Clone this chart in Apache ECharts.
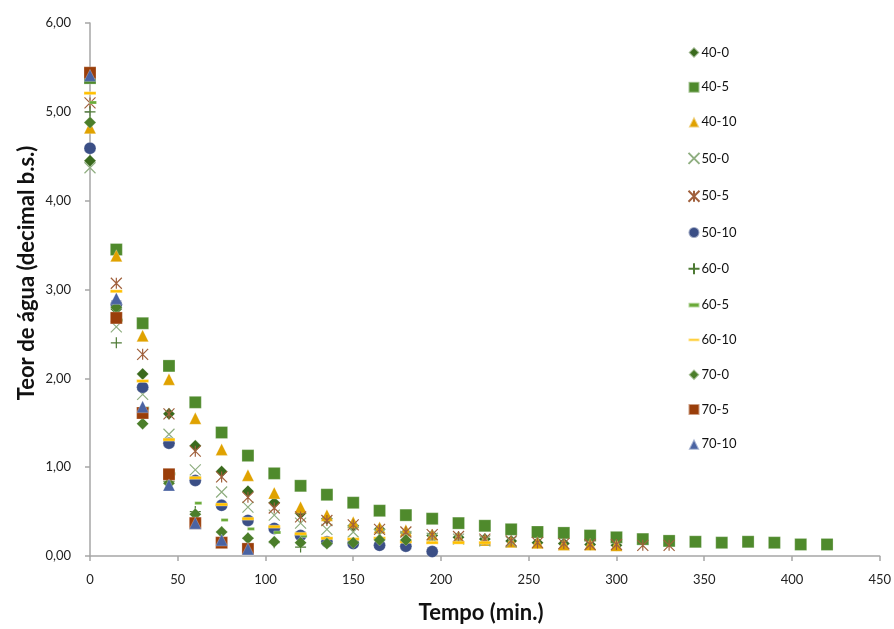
<!DOCTYPE html>
<html lang="pt">
<head>
    <meta charset="UTF-8">
    <title>Teor de água x Tempo</title>
    <style>
        * { margin: 0; padding: 0; box-sizing: border-box; }
        html, body { background: #fff; }
        .chart { width: 894px; height: 629px; }
    </style>
</head>
<body>
<div class="chart" id="chart"></div>

<script src="https://cdn.jsdelivr.net/npm/echarts@6.0.0/dist/echarts.min.js"></script>
<script>
    // tempo em minutos, um ponto a cada 15 min
    const tempo = [0, 15, 30, 45, 60, 75, 90, 105, 120, 135, 150, 165, 180, 195, 210,
        225, 240, 255, 270, 285, 300, 315, 330, 345, 360, 375, 390, 405, 420]

    const s40_0 = [4.45, 2.78, 2.05, 1.60, 1.24, 0.95, 0.73, 0.60, 0.48, 0.42, 0.34, 0.30, 0.26, 0.23, 0.21, 0.19, 0.17, 0.15, 0.14, 0.13, 0.12]
    const s40_5 = [5.38, 3.45, 2.62, 2.14, 1.73, 1.39, 1.13, 0.93, 0.79, 0.69, 0.60, 0.51, 0.46, 0.42, 0.37, 0.34, 0.30, 0.27, 0.26, 0.23, 0.21, 0.19, 0.17, 0.16, 0.15, 0.16, 0.15, 0.13, 0.13]
    const s40_10 = [4.82, 3.38, 2.48, 1.99, 1.55, 1.20, 0.91, 0.71, 0.55, 0.46, 0.38, 0.32, 0.29, 0.24, 0.21, 0.18, 0.16, 0.15, 0.13, 0.13, 0.12]
    const s50_0 = [4.37, 2.58, 1.82, 1.37, 0.97, 0.72, 0.55, 0.46, 0.37, 0.30, 0.27, 0.24, 0.22, 0.20, 0.19, 0.17, 0.16]
    const s50_5 = [5.10, 3.07, 2.27, 1.60, 1.18, 0.89, 0.66, 0.54, 0.44, 0.40, 0.35, 0.30, 0.27, 0.24, 0.22, 0.19, 0.17, 0.15, 0.14, 0.13, 0.13, 0.12, 0.12]
    const s50_10 = [4.59, 2.83, 1.90, 1.27, 0.85, 0.57, 0.40, 0.31, 0.23, 0.16, 0.14, 0.12, 0.11, 0.05]
    const s60_0 = [5.00, 2.40, 1.62, 0.84, 0.50, 0.27, 0.20, 0.15, 0.10]
    const s60_5 = [5.06, 2.61, 1.62, 0.88, 0.55, 0.36, 0.26, 0.22, 0.18]
    const s60_10 = [5.21, 2.98, 1.97, 1.31, 0.88, 0.58, 0.42, 0.33, 0.25, 0.20, 0.19, 0.20, 0.16, 0.15, 0.15, 0.15]
    const s70_0 = [4.88, 2.80, 1.49, 0.82, 0.47, 0.27, 0.20, 0.16, 0.15, 0.14, 0.15, 0.18, 0.18]
    const s70_5 = [5.44, 2.68, 1.61, 0.92, 0.37, 0.15, 0.08]
    const s70_10 = [5.41, 2.90, 1.68, 0.80, 0.37, 0.18, 0.08]

    const xTicks = [0, 50, 100, 150, 200, 250, 300, 350, 400, 450]
    const yTicks = [0, 1, 2, 3, 4, 5, 6]

    const pares = vals => vals.map((v, i) => [tempo[i], v])

    // marcadores tipo Excel (traços)
    const X_PATH = 'path://M0 0 L10 10 M10 0 L0 10'
    const AST_PATH = 'path://M0 0 L10 10 M10 0 L0 10 M5 0 L5 10'
    const PLUS_PATH = 'path://M5 0 L5 10 M0 5 L10 5'
    const DASH_CURTO = 'path://M0 0 H7 V3 H0 Z'
    const DASH_LONGO = 'path://M0 0 H12 V3 H0 Z'

    const cheio = (nome, vals, symbol, size, cor, extra) => Object.assign({
        name: nome, type: 'scatter', data: pares(vals),
        symbol: symbol, symbolSize: size,
        itemStyle: { color: cor, borderColor: 'rgba(255,255,255,0.5)', borderWidth: 0.5, opacity: 1 }
    }, extra || {})

    const traco = (nome, vals, symbol, size, cor) => ({
        name: nome, type: 'scatter', data: pares(vals),
        symbol: symbol, symbolSize: size,
        itemStyle: { color: 'none', borderColor: cor, borderWidth: 1.2, opacity: 1 }
    })

    const series = [
        cheio('40-0', s40_0, 'diamond', 12, '#3a6a1d'),
        cheio('40-5', s40_5, 'rect', 12, '#4f8a2c'),
        cheio('40-10', s40_10, 'triangle', 12, '#e0a200'),
        traco('50-0', s50_0, X_PATH, 11, '#8fae80'),
        traco('50-5', s50_5, AST_PATH, 11, '#a0603c'),
        cheio('50-10', s50_10, 'circle', 12, '#3b4f86'),
        traco('60-0', s60_0, PLUS_PATH, 11, '#4d7a34'),
        cheio('60-5', s60_5, 'rect', [7, 3], '#6aaa38', { symbolOffset: [3, -4] }),
        cheio('60-10', s60_10, 'rect', [12, 3], '#ffc000'),
        cheio('70-0', s70_0, 'diamond', 12, '#4b7e2a'),
        cheio('70-5', s70_5, 'rect', 12, '#9a3e0a'),
        cheio('70-10', s70_10, 'triangle', 12, '#4a63a2')
    ]

    const iconesLegenda = { '60-5': DASH_CURTO, '60-10': DASH_LONGO }

    const fonte = 'Lato, "Open Sans", sans-serif'
    const virgula = v => v.toFixed(2).replace('.', ',')

    const myChart = echarts.init(document.getElementById('chart'))
    const option = {
        animation: false,
        backgroundColor: '#fff',
        textStyle: { fontFamily: fonte },
        grid: { left: 90, right: 14, top: 23, bottom: 73 },
        legend: {
            orient: 'vertical',
            left: 681,
            top: 41,
            itemWidth: 11,
            itemHeight: 11,
            itemGap: 21.8,
            selectedMode: false,
            textStyle: { fontFamily: fonte, fontSize: 13, color: '#111', padding: [0, 0, 0, -3] },
            data: series.map(s => iconesLegenda[s.name]
                ? { name: s.name, icon: iconesLegenda[s.name] }
                : s.name)
        },
        graphic: [
            {
                type: 'text',
                x: 481, y: 613,
                style: {
                    text: 'Tempo (min.)', x: 0, y: 0,
                    align: 'center', verticalAlign: 'middle',
                    font: 'bold 22px ' + fonte, fill: '#111'
                }
            },
            {
                type: 'text',
                x: 27, y: 273,
                rotation: Math.PI / 2,
                style: {
                    text: 'Teor de água (decimal b.s.)', x: 0, y: 0,
                    align: 'center', verticalAlign: 'middle',
                    font: 'bold 22px ' + fonte, fill: '#111'
                }
            }
        ],
        xAxis: {
            type: 'value',
            min: xTicks[0],
            max: xTicks[xTicks.length - 1],
            interval: 50,
            axisLine: { lineStyle: { color: '#a6a6a6', width: 1.5 } },
            axisTick: { show: true, length: 5, lineStyle: { color: '#a6a6a6', width: 1.5 } },
            axisLabel: { fontSize: 13, color: '#222', margin: 17 },
            splitLine: { show: false }
        },
        yAxis: {
            type: 'value',
            min: yTicks[0],
            max: yTicks[yTicks.length - 1],
            interval: 1,
            axisLine: { show: true, lineStyle: { color: '#a6a6a6', width: 1.5 } },
            axisTick: { show: true, length: 5, lineStyle: { color: '#a6a6a6', width: 1.5 } },
            axisLabel: { fontSize: 13, color: '#222', margin: 19, formatter: virgula },
            splitLine: { show: false }
        },
        series: series
    }

    myChart.setOption(option)
</script>
</body>
</html>
